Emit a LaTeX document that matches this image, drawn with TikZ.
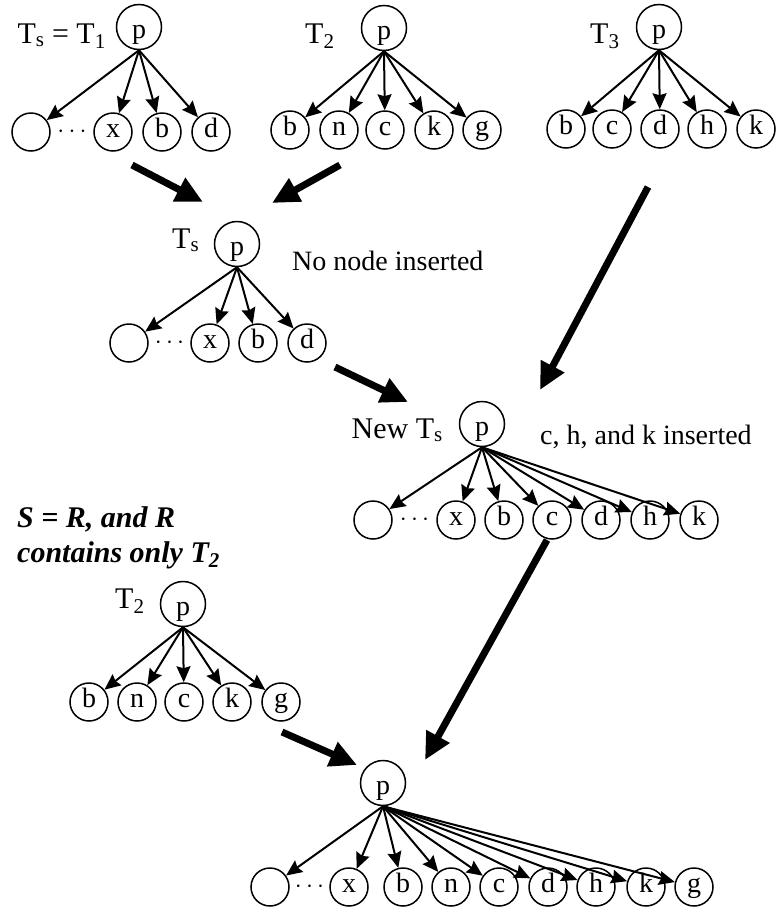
\documentclass[tikz,border=0pt]{standalone}
\usepackage{fontspec}
\setmainfont{Liberation Serif}
\usetikzlibrary{arrows.meta}
\tikzset{>=stealth}
\tikzset{
  root/.style={draw, circle, line width=1.5pt, minimum size=45pt, inner sep=0pt,
    text height=29pt, text depth=6pt},
  leaf/.style={draw, circle, line width=1.5pt, minimum size=38pt, inner sep=0pt,
    text height=16pt, text depth=6pt},
  childarrow/.style={-{Stealth[length=16pt,width=14pt,inset=2pt]}, line width=2pt},
  bigarrow/.style={-{Triangle[length=27pt,width=25pt]}, line width=7pt},
  lbl/.style={inner sep=0pt, anchor=base west},
  tlbl/.style={lbl, font=\fontsize{30}{32}\selectfont},
  dots/.style={font=\fontsize{34}{34}\selectfont},
}

\begin{document}
\begin{tikzpicture}[x=1pt, y=-1pt, font=\fontsize{28}{30}\selectfont]
  \useasboundingbox (0,0) rectangle (777,911);

  % T_s = T_1
  \node[root] (tap) at (139,27) {p};
  \node[tlbl, anchor=base east] (talbl) at (106,43) {T\textsubscript{s} = T\textsubscript{1}};
  \node[leaf] (tae) at (31,132) {};
  \foreach \n/\x in {x/113, b/162, d/211}
    \node[leaf] (ta\n) at (\x,132) {\n};
  \path (tae) -- node[dots] {$\cdots$} (tax);
  \foreach \n in {e, x, b, d}
    \draw[childarrow] (tap.south) -- (ta\n);

  % T_2
  \node[root] (tbp) at (384,28) {p};
  \node[tlbl] (tblbl) at (305,43) {T\textsubscript{2}};
  \foreach \n/\x in {b/290, n/339, c/385, k/434, g/482}
    \node[leaf] (tb\n) at (\x,130) {\n};
  \foreach \n in {b, n, c, k, g}
    \draw[childarrow] (tbp.south) -- (tb\n);

  % T_3
  \node[root] (tcp) at (659,27) {p};
  \node[tlbl] (tclbl) at (590,43) {T\textsubscript{3}};
  \foreach \n/\x in {b/566, c/612, d/660, h/707, k/756}
    \node[leaf] (tc\n) at (\x,129) {\n};
  \foreach \n in {b, c, d, h, k}
    \draw[childarrow] (tcp.south) -- (tc\n);

  % T_s
  \node[root] (tdp) at (237,244) {p};
  \node[tlbl] (tdlbl) at (172,248) {T\textsubscript{s}};
  \node[lbl] (tdnote) at (292,270) {No node inserted};
  \node[leaf] (tde) at (129,343) {};
  \foreach \n/\x in {x/210, b/258, d/307}
    \node[leaf] (td\n) at (\x,343) {\n};
  \path (tde) -- node[dots] {$\cdots$} (tdx);
  \foreach \n in {e, x, b, d}
    \draw[childarrow] (tdp.south) -- (td\n);

  % new T_s
  \node[root] (tep) at (482,424) {p};
  \node[tlbl, anchor=base east] (telbl) at (443,438) {New T\textsubscript{s}};
  \node[lbl] (tenote) at (540,444) {c, h, and k inserted};
  \node[leaf] (tee) at (373,520) {};
  \foreach \n/\x in {x/456, b/504, c/552, d/601, h/650, k/699}
    \node[leaf] (te\n) at (\x,520) {\n};
  \path (tee) -- node[dots] {$\cdots$} (tex);
  \foreach \n in {e, x, b, c, d, h, k}
    \draw[childarrow] (tep.south) -- (te\n);

  % S = R
  \node[tlbl] (snote) at (17,527) {\textbf{\textit{S = R, and R}}};
  \node[tlbl] (rnote) at (17,562) {\textbf{\textit{contains only T\textsubscript{2}}}};

  % T_2 again
  \node[root] (tfp) at (183,604) {p};
  \node[tlbl] (tflbl) at (115,608) {T\textsubscript{2}};
  \foreach \n/\x in {b/89, n/137, c/184, k/232, g/281}
    \node[leaf] (tf\n) at (\x,702) {\n};
  \foreach \n in {b, n, c, k, g}
    \draw[childarrow] (tfp.south) -- (tf\n);

  % result
  \node[root] (tgp) at (383,783) {p};
  \node[leaf] (tge) at (270,887) {};
  \foreach \n/\x in {x/349, b/403, n/451, c/499, d/548, h/596, k/646, g/694}
    \node[leaf] (tg\n) at (\x,887) {\n};
  \path (tge) -- node[dots] {$\cdots$} (tgx);
  \foreach \n in {e, x, b, n, c, d, h, k, g}
    \draw[childarrow] (tgp.south) -- (tg\n);

  % merge arrows
  \coordinate (m1s) at (132,165);  \coordinate (m1e) at (203,202);
  \coordinate (m2s) at (340,165);  \coordinate (m2e) at (272,203);
  \coordinate (m3s) at (648,187);  \coordinate (m3e) at (540,390);
  \coordinate (m4s) at (335,367);  \coordinate (m4e) at (408,402);
  \coordinate (m5s) at (547,540);  \coordinate (m5e) at (425,760);
  \coordinate (m6s) at (282,732);  \coordinate (m6e) at (357,765);
  \foreach \i in {1,...,6}
    \draw[bigarrow] (m\i s) -- (m\i e);
\end{tikzpicture}
\end{document}
